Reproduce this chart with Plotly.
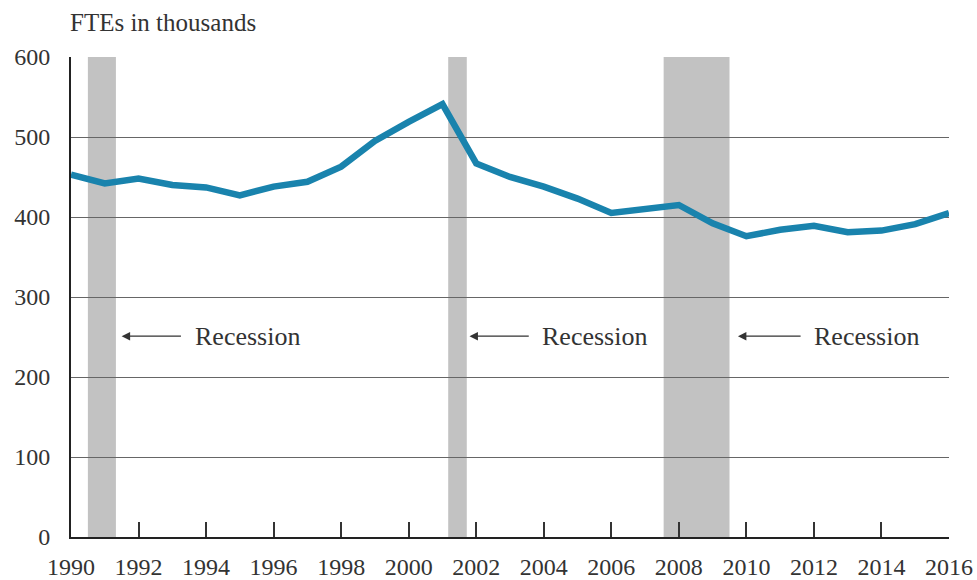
import plotly.graph_objects as go

years = list(range(1990, 2017))
ftes = [453, 442, 448, 440, 437, 427, 438, 444, 463, 495, 519, 541, 467, 450,
        438, 423, 405, 409, 415, 392, 376, 384, 389, 381, 383, 391, 405]

recession_start = [1990.5, 2001.17, 2007.55]
recession_end = [1991.33, 2001.72, 2009.5]
recession_label = ["Recession", "Recession", "Recession"]
arrow_tip = [1991.5, 2001.8, 2009.75]
arrow_tail = [1993.3, 2003.6, 2011.65]
label_y = 251

x_ticks = list(range(1990, 2017, 2))
y_ticks = list(range(0, 601, 100))

FONT = "Liberation Serif"
TXT = "#333333"

fig = go.Figure()
fig.add_trace(go.Scatter(
    x=years, y=ftes, mode="lines",
    line=dict(color="#1983ad", width=6.5),
    hoverinfo="skip", showlegend=False,
))

shapes = []
for s, e in zip(recession_start, recession_end):
    shapes.append(dict(type="rect", xref="x", yref="y", x0=s, x1=e, y0=0, y1=600,
                       fillcolor="#c2c2c2", line=dict(width=0), layer="below"))

annotations = []
for tip, tail, lab in zip(arrow_tip, arrow_tail, recession_label):
    annotations.append(dict(x=tip, y=label_y, ax=tail, ay=label_y, axref="x", ayref="y",
                            xref="x", yref="y", text="", showarrow=True,
                            arrowhead=2, arrowsize=1.3, arrowwidth=1.3, arrowcolor="#333333"))
    annotations.append(dict(x=tail + 0.3, y=label_y, xref="x", yref="y", text=lab,
                            showarrow=False, xanchor="left", yanchor="middle",
                            font=dict(family=FONT, size=26, color=TXT)))
annotations.append(dict(x=-0.003, y=1.0, xref="paper", yref="paper",
                        text="FTEs in thousands", showarrow=False,
                        xanchor="left", yanchor="bottom", yshift=19,
                        font=dict(family=FONT, size=25, color=TXT)))

fig.update_layout(
    width=977, height=580,
    margin=dict(l=71, r=28, t=57, b=43),
    paper_bgcolor="white", plot_bgcolor="white",
    shapes=shapes, annotations=annotations,
    xaxis=dict(range=[1990, 2016], tickvals=x_ticks, ticktext=[str(t) for t in x_ticks],
               showgrid=False, zeroline=False, showline=True, linecolor="#222222", linewidth=2,
               ticks="inside", ticklen=15, tickwidth=1.5, tickcolor="#333333", automargin=False,
               tickfont=dict(family=FONT, size=24, color=TXT), ticklabelstandoff=7),
    yaxis=dict(range=[0, 600], tickvals=y_ticks, automargin=False,
               showgrid=True, gridcolor="#666666", gridwidth=1, zeroline=False,
               showline=True, linecolor="#222222", linewidth=2, ticks="",
               tickfont=dict(family=FONT, size=24, color=TXT), ticklabelstandoff=14),
)

fig.write_html("out.html", config={"displayModeBar": False},
               post_script="document.body.style.margin='0';document.body.style.overflow='hidden';")
